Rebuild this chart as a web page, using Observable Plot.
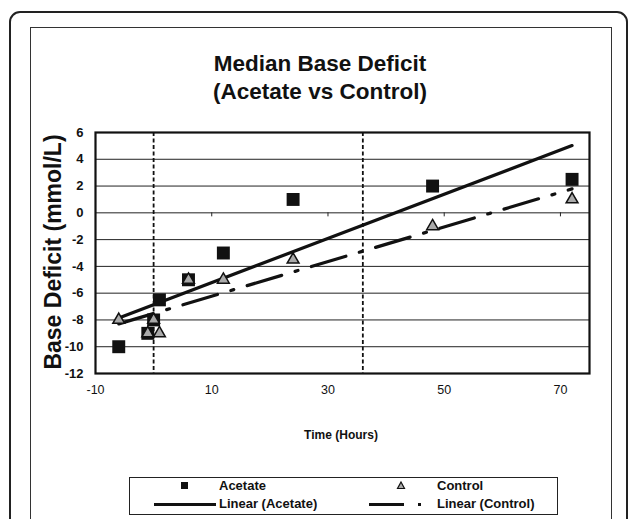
<!DOCTYPE html>
<html>
<head>
<meta charset="utf-8">
<script src="https://cdn.jsdelivr.net/npm/d3@7"></script>
<script src="https://cdn.jsdelivr.net/npm/@observablehq/plot@0.6"></script>
<style>
  html, body { margin: 0; padding: 0; background: #fff; }
  body { width: 629px; height: 519px; overflow: hidden; font-family: "Liberation Sans", Arial, sans-serif; }
  #wrap { position: relative; width: 629px; height: 519px; overflow: hidden; }
  .abs { position: absolute; }
  #outer { left: 9px; top: 11px; width: 615px; height: 560px; border: 2px solid #222; border-radius: 11px; }
  #inner { left: 30px; top: 27px; width: 580px; height: 560px; border: 1.5px solid #333; }
  #title { left: 120px; width: 400px; top: 50px; text-align: center; font-weight: bold; font-size: 22.5px; line-height: 27.5px; color: #111; }
  #ylab { left: 53px; top: 252px; transform: translate(-50%, -50%) rotate(-90deg); white-space: nowrap; font-weight: bold; font-size: 23px; color: #111; }
  #xlab { left: 241px; width: 200px; top: 428px; text-align: center; font-weight: bold; font-size: 12px; color: #111; }
  #legend { left: 129px; top: 477px; width: 427px; height: 36px; border: 1.5px solid #222; background: #fff; }
  .lt { position: absolute; font-weight: bold; font-size: 13px; color: #111; line-height: 16px; }
  #plot { left: 0; top: 0; }
</style>
</head>
<body>
<div id="wrap">
  <div id="outer" class="abs"></div>
  <div id="inner" class="abs"></div>
  <div id="plot" class="abs"></div>
  <div id="title" class="abs">Median Base Deficit<br>(Acetate vs Control)</div>
  <div id="ylab" class="abs">Base Deficit (mmol/L)</div>
  <div id="xlab" class="abs">Time (Hours)</div>
  <div id="legend" class="abs">
    <svg class="abs" style="left:0;top:0" width="427" height="36">
      <rect x="51" y="4" width="7" height="7" fill="#111"/>
      <path d="M271,4 L274.5,10.5 L267.5,10.5 Z" fill="#aaa" stroke="#111" stroke-width="1.2"/>
      <line x1="24" x2="86" y1="26.5" y2="26.5" stroke="#111" stroke-width="3"/>
      <line x1="239" x2="274" y1="26.5" y2="26.5" stroke="#111" stroke-width="3"/>
      <rect x="288" y="25" width="3" height="3" fill="#111"/>
    </svg>
    <div class="lt" style="left:89px;top:0px">Acetate</div>
    <div class="lt" style="left:307px;top:0px">Control</div>
    <div class="lt" style="left:89px;top:18px">Linear (Acetate)</div>
    <div class="lt" style="left:307px;top:18px">Linear (Control)</div>
  </div>
</div>
<script>
// Time points (hours)
const hours = [-6, -1, 0, 1, 6, 12, 24, 48, 72];
// Median base deficit, Acetate group (mmol/L)
const acetate = [-10, -9, -8, -6.5, -5, -3, 1, 2, 2.5];
// Median base deficit, Control group (mmol/L)
const control = [-8, -9, -8, -9, -5, -5, -3.5, -1, 1];
// Axis ticks
const xTicks = [-10, 10, 30, 50, 70];
const yTicks = [-12, -10, -8, -6, -4, -2, 0, 2, 4, 6];
const yGrid = [-10, -8, -6, -4, -2, 0, 2, 4];
// Reference (vertical dashed) lines
const refLines = [0, 36];

const acetateData = hours.map((h, i) => ({x: h, y: acetate[i]}));
const controlData = hours.map((h, i) => ({x: h, y: control[i]}));
const fmt = d => String(d);

const chart = Plot.plot({
  width: 629,
  height: 519,
  marginLeft: 95,
  marginRight: 40,
  marginTop: 132,
  marginBottom: 146,
  style: {background: "transparent", fontFamily: "'Liberation Sans', Arial, sans-serif", color: "#111"},
  x: {domain: [-10, 75]},
  y: {domain: [-12, 6]},
  marks: [
    Plot.ruleY(yGrid, {stroke: "#222", strokeWidth: 1}),
    Plot.ruleX(xTicks.slice(1), {y1: 0, y2: -0.3, stroke: "#222", strokeWidth: 1}),
    Plot.ruleX(refLines, {stroke: "#111", strokeWidth: 1.8, strokeDasharray: "4,2.5"}),
    Plot.linearRegressionY(acetateData, {x: "x", y: "y", ci: 0, stroke: "#111", strokeWidth: 3.2}),
    Plot.linearRegressionY(controlData, {x: "x", y: "y", ci: 0, stroke: "#111", strokeWidth: 3.2, strokeDasharray: "36,14,3,14"}),
    Plot.dot(acetateData, {x: "x", y: "y", symbol: "square", r: 7.3, fill: "#111", stroke: "none"}),
    Plot.dot(controlData, {x: "x", y: "y", symbol: "triangle", r: 4.4, fill: "#aaa", stroke: "#111", strokeWidth: 1.5}),
    Plot.frame({stroke: "#111", strokeWidth: 2.2}),
    Plot.axisX({ticks: xTicks, tickFormat: fmt, tickSize: 0, tickPadding: 12, fontSize: 12.5, label: null}),
    Plot.axisY({ticks: yTicks, tickFormat: fmt, tickSize: 0, tickPadding: 12, fontSize: 13, fontWeight: "bold", label: null})
  ]
});
document.getElementById("plot").appendChild(chart);
</script>
</body>
</html>
